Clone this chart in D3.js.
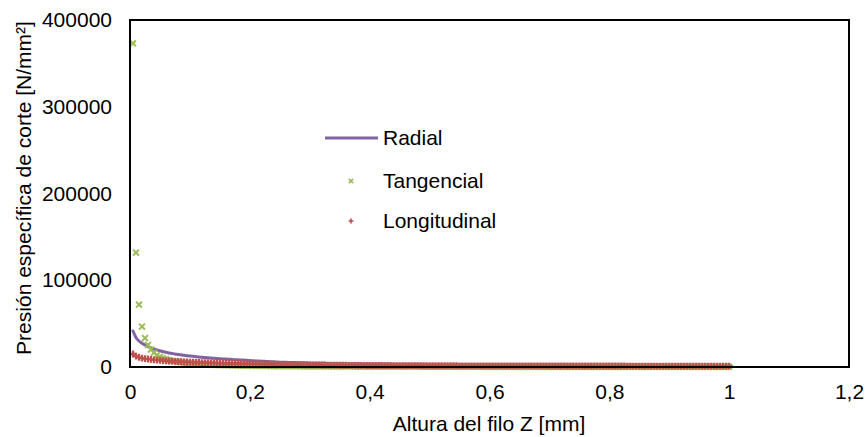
<!DOCTYPE html>
<html lang="es">
<head>
<meta charset="utf-8">
<script src="https://d3js.org/d3.v7.min.js"></script>
<style>
  body { margin: 0; background: #fff; }
  text { font-family: "Liberation Sans", Arial, sans-serif; font-size: 21px; fill: #000; }
</style>
</head>
<body>
<div id="chart"></div>
<script>
// altura del filo Z [mm]
var z = [0.005,0.01,0.015,0.02,0.025,0.03,0.035,0.04,0.045,0.05,
  0.055,0.06,0.065,0.07,0.075,0.08,0.085,0.09,0.095,0.1,
  0.105,0.11,0.115,0.12,0.125,0.13,0.135,0.14,0.145,0.15,
  0.155,0.16,0.165,0.17,0.175,0.18,0.185,0.19,0.195,0.2,
  0.205,0.21,0.215,0.22,0.225,0.23,0.235,0.24,0.245,0.25,
  0.255,0.26,0.265,0.27,0.275,0.28,0.285,0.29,0.295,0.3,
  0.305,0.31,0.315,0.32,0.325,0.33,0.335,0.34,0.345,0.35,
  0.355,0.36,0.365,0.37,0.375,0.38,0.385,0.39,0.395,0.4,
  0.405,0.41,0.415,0.42,0.425,0.43,0.435,0.44,0.445,0.45,
  0.455,0.46,0.465,0.47,0.475,0.48,0.485,0.49,0.495,0.5,
  0.505,0.51,0.515,0.52,0.525,0.53,0.535,0.54,0.545,0.55,
  0.555,0.56,0.565,0.57,0.575,0.58,0.585,0.59,0.595,0.6,
  0.605,0.61,0.615,0.62,0.625,0.63,0.635,0.64,0.645,0.65,
  0.655,0.66,0.665,0.67,0.675,0.68,0.685,0.69,0.695,0.7,
  0.705,0.71,0.715,0.72,0.725,0.73,0.735,0.74,0.745,0.75,
  0.755,0.76,0.765,0.77,0.775,0.78,0.785,0.79,0.795,0.8,
  0.805,0.81,0.815,0.82,0.825,0.83,0.835,0.84,0.845,0.85,
  0.855,0.86,0.865,0.87,0.875,0.88,0.885,0.89,0.895,0.9,
  0.905,0.91,0.915,0.92,0.925,0.93,0.935,0.94,0.945,0.95,
  0.955,0.96,0.965,0.97,0.975,0.98,0.985,0.99,0.995,1];

// presión específica de corte [N/mm²]
var radial = [41500,34000,30000,27500,25300,23500,22000,20800,19700,18700,
  17800,17000,16200,15600,15000,14500,14000,13500,13100,12700,
  12300,11900,11500,11200,10900,10600,10300,10000,9750,9500,
  9300,9100,8900,8700,8500,8300,8100,7950,7800,7400,
  7220,7040,6860,6680,6500,6320,6140,5960,5780,5600,
  5490,5380,5270,5160,5050,4940,4830,4720,4610,4500,
  4440,4380,4320,4260,4200,4140,4080,4020,3960,3900,
  3860,3820,3780,3740,3700,3660,3620,3580,3540,3500,
  3475,3450,3425,3400,3375,3350,3325,3300,3275,3250,
  3225,3200,3175,3150,3125,3100,3075,3050,3025,3000,
  2987,2973,2960,2947,2933,2920,2907,2893,2880,2867,
  2853,2840,2827,2813,2800,2787,2773,2760,2747,2733,
  2720,2707,2693,2680,2667,2653,2640,2627,2613,2600,
  2592,2583,2575,2567,2558,2550,2542,2533,2525,2517,
  2508,2500,2492,2483,2475,2467,2458,2450,2442,2433,
  2425,2417,2408,2400,2392,2383,2375,2367,2358,2350,
  2344,2338,2331,2325,2319,2313,2306,2300,2294,2288,
  2281,2275,2269,2263,2256,2250,2244,2238,2231,2225,
  2219,2213,2206,2200,2194,2188,2181,2175,2169,2163,
  2156,2150,2144,2138,2131,2125,2119,2113,2106,2100];

var tangencial = [373000,131900,71800,46600,33360,25390,20140,16490,13810,11800,
  10220,8970,7960,7120,6420,5830,5320,4880,4500,4170,
  3880,3610,3380,3170,2984,2813,2659,2517,2388,2270,
  2161,2060,1968,1881,1801,1727,1657,1592,1531,1474,
  1421,1370,1323,1278,1236,1195,1157,1122,1088,1055,
  1024,995,967,940,914,890,867,844,823,803,
  783,764,746,729,712,696,680,665,651,637,
  623,611,598,586,574,563,552,541,531,521,
  512,502,493,484,476,468,460,452,444,437,
  430,423,416,409,403,397,391,385,379,373,
  367,362,357,352,347,342,337,332,327,323,
  319,315,311,307,303,299,295,291,287,284,
  280,277,273,270,267,264,261,258,255,252,
  249,246,243,241,238,235,233,230,228,225,
  223,221,218,216,214,212,209,207,205,203,
  201,199,197,195,193,191,190,188,186,184,
  183,181,179,178,176,174,173,171,170,168,
  167,165,164,163,161,160,158,157,156,154,
  153,152,151,149,148,147,146,145,144,143,
  141,140,139,138,137,136,135,134,133,132];

var longitudinal = [15000,12500,11200,10300,9700,9200,8700,8300,7900,7600,
  7350,7100,6900,6700,6500,6300,6150,5950,5800,5650,
  5500,5370,5250,5120,5000,4900,4800,4700,4600,4500,
  4420,4340,4260,4180,4100,4020,3940,3860,3780,3700,
  3630,3560,3490,3420,3350,3290,3230,3170,3110,3050,
  2995,2940,2885,2830,2775,2720,2665,2610,2555,2500,
  2455,2410,2365,2320,2275,2230,2185,2140,2095,2050,
  2020,1990,1960,1930,1900,1870,1840,1810,1780,1750,
  1730,1720,1700,1680,1670,1650,1630,1610,1600,1580,
  1570,1550,1540,1530,1520,1500,1490,1480,1460,1450,
  1440,1440,1430,1420,1420,1410,1400,1400,1390,1380,
  1380,1370,1360,1350,1350,1340,1330,1330,1320,1310,
  1310,1300,1290,1290,1280,1275,1270,1265,1260,1255,
  1250,1245,1240,1235,1230,1225,1220,1215,1210,1205,
  1200,1195,1190,1185,1180,1175,1170,1165,1160,1150,
  1147,1144,1141,1138,1135,1131,1128,1125,1122,1118,
  1115,1112,1109,1106,1102,1099,1096,1093,1090,1086,
  1083,1080,1077,1074,1070,1067,1064,1062,1059,1056,
  1053,1050,1048,1045,1042,1039,1036,1034,1031,1028,
  1025,1022,1020,1017,1014,1011,1008,1006,1003,1000];

var xTicks = [0, 0.2, 0.4, 0.6, 0.8, 1, 1.2];
var yTicks = [0, 100000, 200000, 300000, 400000];
var seriesNames = ["Radial", "Tangencial", "Longitudinal"];

var width = 866, height = 437;
var plotLeft = 130, plotRight = 849, plotTop = 20, plotBottom = 367;

var colRadial = "#8064A2", colTang = "#9BBB59", colLong = "#C0504D";

// comma as decimal separator
var es = d3.formatLocale({decimal: ",", thousands: ".", grouping: [3], currency: ["", " €"]});

var svg = d3.select("#chart").append("svg")
    .attr("width", width)
    .attr("height", height);

var xScale = d3.scaleLinear().domain([0, 1.2]).range([plotLeft, plotRight]);
var yScale = d3.scaleLinear().domain([0, 400000]).range([plotBottom, plotTop]);

var radialData = z.map(function(d, i) { return {x: d, y: radial[i]}; });
var tangData = z.map(function(d, i) { return {x: d, y: tangencial[i]}; });
var longData = z.map(function(d, i) { return {x: d, y: longitudinal[i]}; });

// axes (no tick marks, Excel style)
var xAxis = d3.axisBottom(xScale).tickValues(xTicks).tickSize(0).tickPadding(17)
    .tickFormat(es.format("~g"));
var yAxis = d3.axisLeft(yScale).tickValues(yTicks).tickSize(0).tickPadding(18)
    .tickFormat(es.format("d"));

svg.append("g")
    .attr("transform", "translate(0," + plotBottom + ")")
    .call(xAxis)
    .call(function(g) { g.select(".domain").remove(); })
    .selectAll("text").attr("font-size", null).attr("font-family", null);

svg.append("g")
    .attr("transform", "translate(" + plotLeft + ",0)")
    .call(yAxis)
    .call(function(g) { g.select(".domain").remove(); })
    .selectAll("text").attr("font-size", null).attr("font-family", null);

// series
svg.append("path")
    .datum(radialData)
    .attr("fill", "none")
    .attr("stroke", colRadial)
    .attr("stroke-width", 3)
    .attr("stroke-linecap", "round")
    .attr("d", d3.line()
        .x(function(d) { return xScale(d.x); })
        .y(function(d) { return yScale(d.y); })
        .curve(d3.curveMonotoneX));

var xMark = d3.symbol().type(d3.symbolTimes).size(24);
svg.append("g").selectAll("path")
    .data(tangData)
    .enter()
    .append("path")
    .attr("transform", function(d) { return "translate(" + xScale(d.x) + "," + yScale(d.y) + ")"; })
    .attr("d", xMark)
    .attr("fill", "none")
    .attr("stroke", colTang)
    .attr("stroke-width", 2);

var plusMark = d3.symbol().type(d3.symbolCross).size(26);
svg.append("g").selectAll("path")
    .data(longData)
    .enter()
    .append("path")
    .attr("transform", function(d) { return "translate(" + xScale(d.x) + "," + yScale(d.y) + ")"; })
    .attr("d", plusMark)
    .attr("fill", colLong);

// plot frame
svg.append("rect")
    .attr("x", plotLeft).attr("y", plotTop)
    .attr("width", plotRight - plotLeft).attr("height", plotBottom - plotTop)
    .attr("fill", "none")
    .attr("stroke", "#000")
    .attr("stroke-width", 2);

// axis titles
svg.append("text")
    .attr("x", (plotLeft + plotRight) / 2 - 0.5)
    .attr("y", 431)
    .attr("text-anchor", "middle")
    .text("Altura del filo Z [mm]");

svg.append("text")
    .attr("transform", "translate(24,188) rotate(-90)")
    .attr("text-anchor", "middle")
    .attr("dy", "0.35em")
    .text("Presión específica de corte [N/mm²]");

// legend
var legendY = [138, 181, 221];
svg.append("line")
    .attr("x1", 325).attr("x2", 378)
    .attr("y1", legendY[0]).attr("y2", legendY[0])
    .attr("stroke", colRadial).attr("stroke-width", 3);
svg.append("path")
    .attr("transform", "translate(351," + legendY[1] + ")")
    .attr("d", d3.symbol().type(d3.symbolTimes).size(14))
    .attr("fill", "none").attr("stroke", colTang).attr("stroke-width", 1.6);
svg.append("path")
    .attr("transform", "translate(351," + legendY[2] + ")")
    .attr("d", d3.symbol().type(d3.symbolCross).size(14))
    .attr("fill", colLong);

svg.append("g").selectAll("text")
    .data(seriesNames)
    .enter()
    .append("text")
    .attr("x", 383)
    .attr("y", function(d, i) { return legendY[i]; })
    .attr("dy", "0.35em")
    .text(function(d) { return d; });
</script>
</body>
</html>
